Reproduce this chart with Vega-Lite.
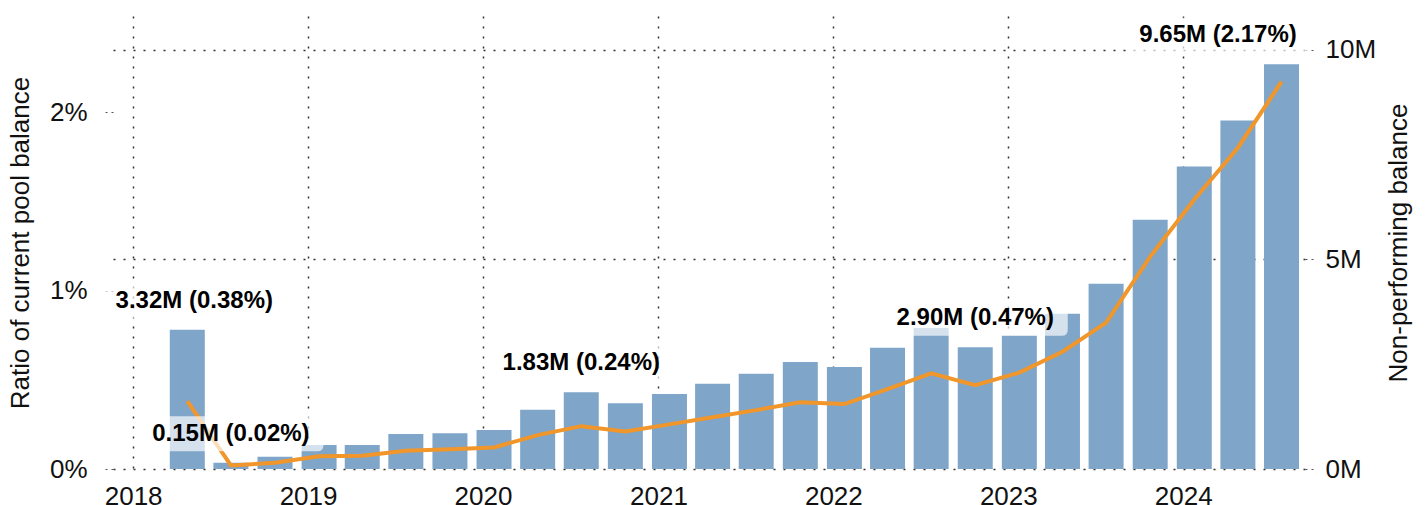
{
  "$schema": "https://vega.github.io/schema/vega-lite/v6.json",
  "autosize": {"type": "none"},
  "padding": {"left": 113, "top": 16, "right": 123, "bottom": 36},
  "width": 1192,
  "height": 453,
  "background": "white",
  "config": {
    "view": {"stroke": null},
    "font": "Liberation Sans",
    "axis": {
      "labelFont": "Liberation Sans",
      "titleFont": "Liberation Sans",
      "labelFontSize": 26,
      "titleFontSize": 26,
      "labelColor": "#111111",
      "titleColor": "#111111",
      "titleFontWeight": "normal",
      "domain": false
    }
  },
  "data": {
    "values": [
      {"date": "2018-04-24", "value": 3320000, "ratio": 0.0038},
      {"date": "2018-07-24", "value": 150000, "ratio": 0.0002},
      {"date": "2018-10-24", "value": 290000, "ratio": 0.00035},
      {"date": "2019-01-24", "value": 570000, "ratio": 0.00072},
      {"date": "2019-04-24", "value": 575000, "ratio": 0.00074},
      {"date": "2019-07-24", "value": 835000, "ratio": 0.00102},
      {"date": "2019-10-24", "value": 850000, "ratio": 0.0011},
      {"date": "2020-01-24", "value": 930000, "ratio": 0.00121},
      {"date": "2020-04-24", "value": 1410000, "ratio": 0.0019},
      {"date": "2020-07-24", "value": 1830000, "ratio": 0.0024},
      {"date": "2020-10-24", "value": 1570000, "ratio": 0.0021},
      {"date": "2021-01-24", "value": 1790000, "ratio": 0.0025},
      {"date": "2021-04-24", "value": 2030000, "ratio": 0.0029},
      {"date": "2021-07-24", "value": 2270000, "ratio": 0.0033},
      {"date": "2021-10-24", "value": 2550000, "ratio": 0.00374},
      {"date": "2022-01-24", "value": 2430000, "ratio": 0.00364},
      {"date": "2022-04-24", "value": 2890000, "ratio": 0.00448},
      {"date": "2022-07-24", "value": 3360000, "ratio": 0.00536},
      {"date": "2022-10-24", "value": 2900000, "ratio": 0.0047},
      {"date": "2023-01-24", "value": 3180000, "ratio": 0.0054},
      {"date": "2023-04-24", "value": 3700000, "ratio": 0.00657},
      {"date": "2023-07-24", "value": 4415000, "ratio": 0.0082},
      {"date": "2023-10-24", "value": 5940000, "ratio": 0.0119},
      {"date": "2024-01-24", "value": 7210000, "ratio": 0.0151},
      {"date": "2024-04-24", "value": 8310000, "ratio": 0.018},
      {"date": "2024-07-24", "value": 9650000, "ratio": 0.0217}
    ]
  },
  "encoding": {
    "x": {
      "field": "date",
      "type": "temporal",
      "scale": {
        "type": "utc",
        "padding": 0,
        "domain": [
          {"year": 2017, "month": 11, "date": 20, "utc": true},
          {"year": 2024, "month": 9, "date": 11, "utc": true}
        ]
      },
      "axis": {
        "title": null,
        "values": [
          {"year": 2018, "month": 1, "date": 1, "utc": true},
          {"year": 2019, "month": 1, "date": 1, "utc": true},
          {"year": 2020, "month": 1, "date": 1, "utc": true},
          {"year": 2021, "month": 1, "date": 1, "utc": true},
          {"year": 2022, "month": 1, "date": 1, "utc": true},
          {"year": 2023, "month": 1, "date": 1, "utc": true},
          {"year": 2024, "month": 1, "date": 1, "utc": true}
        ],
        "labelExpr": "utcFormat(datum.value, '%Y')",
        "grid": true,
        "gridDash": [2, 8],
        "gridColor": "#333333",
        "gridWidth": 1.5,
        "ticks": false,
        "labelPadding": 14,
        "labelFlush": false
      }
    }
  },
  "layer": [
    {
      "mark": {"type": "bar", "size": 35, "color": "#7FA6C9"},
      "encoding": {
        "y": {
          "field": "value",
          "type": "quantitative",
          "scale": {"domain": [0, 10800000], "nice": false},
          "axis": {
            "orient": "right",
            "values": [0, 5000000, 10000000],
            "labelExpr": "datum.value / 1000000 + 'M'",
            "title": "Non-performing balance",
            "titleAngle": 270,
            "titlePadding": 36,
            "grid": true,
            "gridDash": [2, 8],
            "gridColor": "#333333",
            "gridWidth": 1.5,
            "tickDash": [2, 4],
            "tickSize": 8,
            "tickColor": "#555555",
            "labelPadding": 12
          }
        }
      }
    },
    {
      "mark": {"type": "line", "color": "#F0962A", "strokeWidth": 4},
      "encoding": {
        "y": {
          "field": "ratio",
          "type": "quantitative",
          "scale": {"domain": [0, 0.02538], "nice": false},
          "axis": {
            "orient": "left",
            "values": [0, 0.01, 0.02],
            "format": ".0%",
            "title": "Ratio of current pool balance",
            "titlePadding": 16,
            "grid": false,
            "tickDash": [2, 4],
            "tickSize": 12,
            "tickColor": "#555555",
            "labelPadding": 14
          }
        }
      }
    },
    {
      "transform": [{"filter": "datum.value == 150000 || datum.value == 1830000 || datum.value == 2900000"}],
      "mark": {
        "type": "point",
        "shape": "M-0.865,-0.465H0.865Q0.925,-0.465 0.925,-0.405V-0.175Q0.925,-0.115 0.865,-0.115H-0.865Q-0.925,-0.115 -0.925,-0.175V-0.405Q-0.925,-0.465 -0.865,-0.465Z",
        "size": 40000,
        "filled": true,
        "color": "white",
        "opacity": 0.67,
        "strokeWidth": 0
      },
      "encoding": {
        "y": {"field": "value", "type": "quantitative", "scale": {"domain": [0, 10800000], "nice": false}, "axis": null}
      }
    },
    {
      "transform": [{"filter": "datum.value == 3320000"}],
      "mark": {
        "type": "point",
        "shape": "M-0.795,-0.465H0.935Q0.995,-0.465 0.995,-0.405V-0.175Q0.995,-0.115 0.935,-0.115H-0.795Q-0.855,-0.115 -0.855,-0.175V-0.405Q-0.855,-0.465 -0.795,-0.465Z",
        "size": 40000,
        "filled": true,
        "color": "white",
        "opacity": 0.67,
        "strokeWidth": 0
      },
      "encoding": {
        "y": {"field": "value", "type": "quantitative", "scale": {"domain": [0, 10800000], "nice": false}, "axis": null}
      }
    },
    {
      "transform": [{"filter": "datum.value == 9650000"}],
      "mark": {
        "type": "point",
        "shape": "M-1.5,-0.465H0.23Q0.29,-0.465 0.29,-0.405V-0.175Q0.29,-0.115 0.23,-0.115H-1.5Q-1.56,-0.115 -1.56,-0.175V-0.405Q-1.56,-0.465 -1.5,-0.465Z",
        "size": 40000,
        "filled": true,
        "color": "white",
        "opacity": 0.67,
        "strokeWidth": 0
      },
      "encoding": {
        "y": {"field": "value", "type": "quantitative", "scale": {"domain": [0, 10800000], "nice": false}, "axis": null}
      }
    },
    {
      "transform": [
        {"filter": "datum.value == 150000 || datum.value == 1830000 || datum.value == 2900000"},
        {"calculate": "format(datum.value / 1000000, '.2f') + 'M (' + format(datum.ratio, '.2%') + ')'", "as": "label"}
      ],
      "mark": {"type": "text", "font": "Liberation Sans", "fontSize": 24, "fontWeight": "bold", "color": "#000000", "dy": -29, "baseline": "middle", "align": "center"},
      "encoding": {
        "y": {"field": "value", "type": "quantitative", "scale": {"domain": [0, 10800000], "nice": false}, "axis": null},
        "text": {"field": "label", "type": "nominal"}
      }
    },
    {
      "transform": [
        {"filter": "datum.value == 3320000"},
        {"calculate": "format(datum.value / 1000000, '.2f') + 'M (' + format(datum.ratio, '.2%') + ')'", "as": "label"}
      ],
      "mark": {"type": "text", "font": "Liberation Sans", "fontSize": 24, "fontWeight": "bold", "color": "#000000", "dy": -29, "dx": 7, "baseline": "middle", "align": "center"},
      "encoding": {
        "y": {"field": "value", "type": "quantitative", "scale": {"domain": [0, 10800000], "nice": false}, "axis": null},
        "text": {"field": "label", "type": "nominal"}
      }
    },
    {
      "transform": [
        {"filter": "datum.value == 9650000"},
        {"calculate": "format(datum.value / 1000000, '.2f') + 'M (' + format(datum.ratio, '.2%') + ')'", "as": "label"}
      ],
      "mark": {"type": "text", "font": "Liberation Sans", "fontSize": 24, "fontWeight": "bold", "color": "#000000", "dy": -29, "dx": -63.5, "baseline": "middle", "align": "center"},
      "encoding": {
        "y": {"field": "value", "type": "quantitative", "scale": {"domain": [0, 10800000], "nice": false}, "axis": null},
        "text": {"field": "label", "type": "nominal"}
      }
    }
  ],
  "resolve": {"scale": {"y": "independent"}}
}
